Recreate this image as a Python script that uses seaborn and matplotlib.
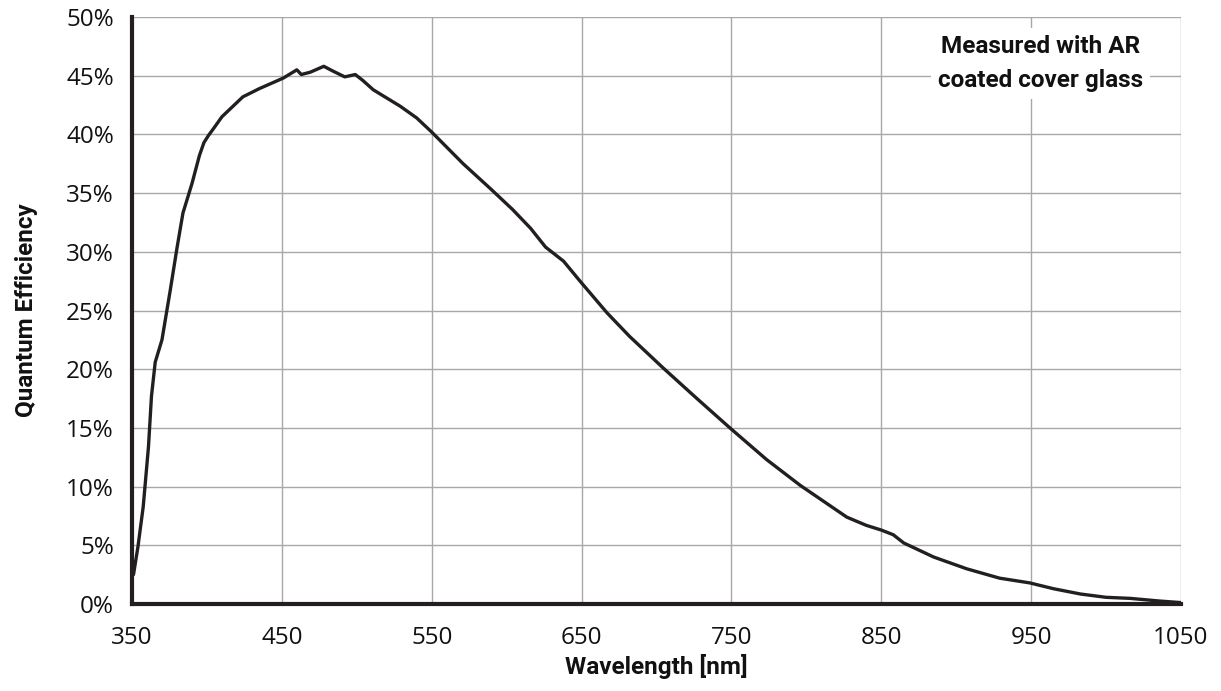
import matplotlib
matplotlib.use("Agg")
import matplotlib.pyplot as plt
import seaborn as sns
import pandas as pd
from matplotlib.ticker import FuncFormatter

wavelength_nm = [350, 351, 354, 357.5, 361, 363, 365.5, 370, 375.5, 380, 384, 390, 395, 398, 401,
                 405, 410, 424, 435, 451, 460, 463, 469, 478, 484, 492, 499, 504, 511, 529,
                 540, 550, 571, 589, 604, 616, 626, 638, 649, 667, 682, 704.5, 727, 749,
                 773.5, 796, 827, 840, 850, 858, 865, 885, 907, 929, 949, 965, 983,
                 1000, 1016, 1036, 1050]
qe_percent = [2.5, 2.5, 4.9, 8.3, 13.4, 17.7, 20.6, 22.5, 26.7, 30.3, 33.3, 35.8, 38.2, 39.3, 39.9,
              40.6, 41.5, 43.2, 43.9, 44.8, 45.5, 45.1, 45.3, 45.8, 45.4, 44.9, 45.1, 44.6, 43.8, 42.4,
              41.4, 40.2, 37.5, 35.4, 33.6, 32.0, 30.4, 29.2, 27.5, 24.8, 22.8, 20.1, 17.5, 15.0,
              12.3, 10.1, 7.4, 6.7, 6.3, 5.9, 5.2, 4.0, 3.0, 2.2, 1.8, 1.3, 0.85,
              0.57, 0.48, 0.25, 0.12]
x_ticks = [350, 450, 550, 650, 750, 850, 950, 1050]
y_ticks = [0, 5, 10, 15, 20, 25, 30, 35, 40, 45, 50]
annotation = "Measured with AR\ncoated cover glass"

sns.set_theme(style="white")
plt.rcParams['font.family'] = ['Open Sans', 'DejaVu Sans']

df = pd.DataFrame({"Wavelength": wavelength_nm, "QE": qe_percent})

fig = plt.figure(figsize=(12.21, 6.91), dpi=100)
ax = fig.add_axes([0.1081, 0.1259, 0.8591, 0.8495])

sns.lineplot(data=df, x="Wavelength", y="QE", ax=ax, color="#231f20", linewidth=2.4,
             sort=False, zorder=3)

ax.set_xlim(350, 1050)
ax.set_ylim(0, 50)
ax.set_xticks(x_ticks)
ax.set_yticks(y_ticks)
ax.yaxis.set_major_formatter(FuncFormatter(lambda v, p: f"{v:.0f}%"))
ax.grid(True, color="#a8a8a8", linewidth=1.0, zorder=0)
ax.set_axisbelow(True)

for s in ["top", "right"]:
    ax.spines[s].set_visible(False)
for s in ["left", "bottom"]:
    ax.spines[s].set_color("#231f20")
    ax.spines[s].set_linewidth(3.0)
    ax.spines[s].set_zorder(4)

ax.tick_params(axis="both", which="major", direction="out", length=7, width=2.5,
               color="#231f20", labelsize=17.5, labelcolor="#111111")
ax.tick_params(axis="x", pad=9)
ax.tick_params(axis="y", pad=6)

label_font = ['Roboto', 'DejaVu Sans']
ax.set_xlabel("Wavelength [nm]", fontsize=17.5, fontweight="bold", family=label_font,
              color="#111111", labelpad=3)
ax.set_ylabel("Quantum Efficiency", fontsize=17.5, fontweight="bold", family=label_font,
              color="#111111", labelpad=20)

ax.text(0.866, 0.921, annotation, transform=ax.transAxes, ha="center", va="center",
        fontsize=17.5, fontweight="bold", family=label_font, color="#111111",
        linespacing=1.6, zorder=5,
        bbox=dict(boxstyle="square,pad=0.3", facecolor="white", edgecolor="none"))

fig.savefig("out.png", dpi=100)
